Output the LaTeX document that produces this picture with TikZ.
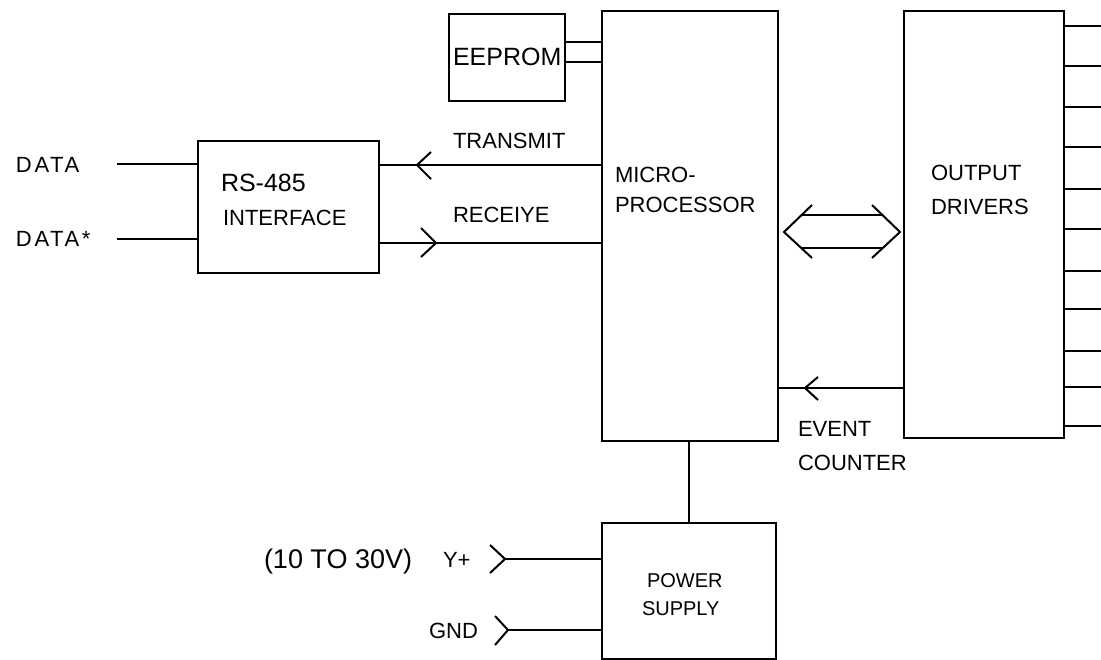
\documentclass[tikz,border=0pt]{standalone}
\usepackage{fontspec}
\setmainfont{Liberation Sans}
\newfontfamily\widefont[LetterSpace=12]{Liberation Sans}
\begin{document}
\begin{tikzpicture}[x=1pt,y=-1pt,line width=2pt,
  blk/.style={draw,line width=2pt,inner sep=0pt,anchor=north west},
  lbl/.style={font=\fontsize{22}{22}\selectfont,inner sep=0pt,anchor=base west},
  small/.style={font=\fontsize{20}{20}\selectfont,inner sep=0pt,anchor=base west},
  big/.style={font=\fontsize{25}{25}\selectfont,inner sep=0pt,anchor=base west},
  wide/.style={font=\widefont\fontsize{22}{22}\selectfont,inner sep=0pt,anchor=base west},
  wire/.style={line width=2pt},
  chev/.style={line width=2pt}]
\useasboundingbox (0,0) rectangle (1101,660);
% blocks
\node[blk,minimum width=116pt,minimum height=87pt] (eeprom) at (448,13) {};
\node[blk,minimum width=176pt,minimum height=430pt] (micro) at (601,10) {};
\node[blk,minimum width=181pt,minimum height=132pt] (rs) at (197,140) {};
\node[blk,minimum width=160pt,minimum height=427pt] (out) at (903,10) {};
\node[blk,minimum width=174pt,minimum height=136pt] (psu) at (601,522) {};
% texts
\node[big] (teeprom) at (452,66) {EEPROM};
\node[big] (trs) at (220,192) {RS-485};
\node[lbl] (tif) at (222,226) {INTERFACE};
\node[lbl] (ttx) at (452,149) {TRANSMIT};
\node[lbl] (trx) at (452,223) {RECEIYE};
\node[lbl] (tm1) at (614,183) {MICRO-};
\node[lbl] (tm2) at (614,213) {PROCESSOR};
\node[lbl] (to1) at (930,181) {OUTPUT};
\node[lbl] (to2) at (930,215) {DRIVERS};
\node[lbl] (tev1) at (797,436) {EVENT};
\node[lbl] (tev2) at (797,470) {COUNTER};
\node[small] (tp1) at (646,587) {POWER};
\node[small] (tp2) at (641,615) {SUPPLY};
\node[font=\fontsize{27}{27}\selectfont,inner sep=0pt,anchor=base west] (tvr) at (263,568) {(10 TO 30V)};
\node[lbl] (tvp) at (442,567) {Y+};
\node[lbl] (tgnd) at (428,638) {GND};
\node[wide] (tdata) at (15,173) {DATA};
\node[wide] (tdatas) at (15,247) {DATA*};
% EEPROM links
\draw[wire] ([yshift=-29pt]eeprom.north east) coordinate (e1) -- (e1 -| micro.west);
\draw[wire] ([yshift=-49pt]eeprom.north east) coordinate (e2) -- (e2 -| micro.west);
% data lines
\coordinate (d1) at (117,164);
\coordinate (d2) at (117,239);
\draw[wire] (d1) -- (d1 -| rs.west);
\draw[wire] (d2) -- (d2 -| rs.west);
% transmit / receive
\draw[wire] ([yshift=-155pt]micro.north west) coordinate (t1) -- (t1 -| rs.east);
\draw[chev] (431,152) -- (417,165) -- (431,179);
\draw[wire] ([yshift=-233pt]micro.north west) coordinate (r1) -- (r1 -| rs.east);
\draw[chev] (421,228) -- (436,243) -- (421,257);
% bus double arrow
\draw[chev] (812,205) -- (784,232) -- (812,258);
\draw[chev] (872,205) -- (900,232) -- (872,258);
\draw[wire] (802,215) -- (882,215);
\draw[wire] (802,248) -- (882,248);
% event counter
\draw[wire] ([yshift=-378pt]out.north west) coordinate (ev) -- (ev -| micro.east);
\draw[chev] (818,377) -- (805,388) -- (818,400);
% micro to power supply
\draw[wire] (psu.north) -- (psu.north |- micro.south);
% power inputs
\coordinate (vin) at (505,559);
\coordinate (gin) at (508,630);
\draw[wire] (vin) -- (vin -| psu.west);
\draw[chev] (490,545) -- (vin) -- (490,573);
\draw[wire] (gin) -- (gin -| psu.west);
\draw[chev] (495,616) -- (gin) -- (495,645);
% output lines
\foreach \y in {26,66,107,147,189,229,271,309,351,387,426}{
  \coordinate (o\y) at (1101,\y);
  \draw[wire] (o\y -| out.east) -- (o\y);
}
\end{tikzpicture}
\end{document}
